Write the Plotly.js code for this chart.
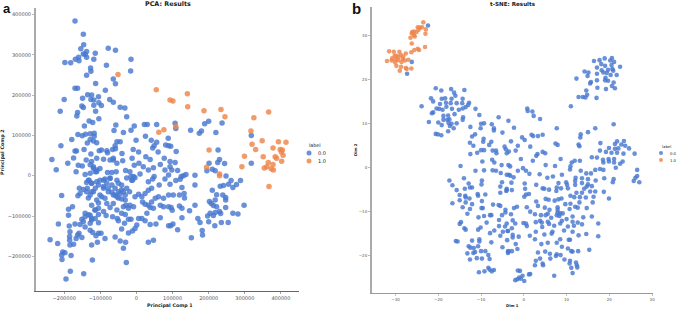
<!DOCTYPE html>
<html><head><meta charset="utf-8">
<script src="https://cdn.plot.ly/plotly-3.0.1.min.js"></script>
<style>html,body{margin:0;padding:0;background:#fff}#c{width:677px;height:309px}</style>
</head><body><div id="c"></div>
<script>
// PCA values, in thousands [comp1, comp2]
const pcaLabel0 = [[-170,384],[-147,351],[-146,325],[-154,315],[-138,308],[-147,302],[-142,301],[-114,304],[-78,316],[-58,311],[-15,289],[-198,281],[-182,280],[-169,289],[-160,294],[-159,285],[-138,294],[-118,289],[-127,267],[-126,259],[-16,260],[-83,274],[-138,249],[-64,240],[-113,229],[-58,228],[-170,217],[-163,217],[-86,212],[-135,201],[-124,200],[-149,192],[-105,196],[-200,189],[-126,189],[-118,188],[-74,189],[-64,182],[-104,181],[-97,174],[-211,160],[-118,175],[-151,173],[-147,169],[-163,157],[-113,160],[-45,170],[-32,168],[-165,148],[-27,146],[-104,141],[-131,136],[-121,132],[-57,126],[-144,123],[-6,123],[22,127],[30,127],[56,127],[-62,112],[-15,113],[-162,102],[-150,99],[-141,103],[-128,104],[-117,105],[-117,98],[-36,107],[-179,90],[-128,90],[-119,86],[-110,82],[-136,81],[-1,88],[25,98],[41,88],[88,93],[-54,84],[-45,84],[-59,74],[56,83],[49,74],[45,69],[81,76],[89,74],[-209,74],[-170,61],[-166,61],[-145,65],[-103,62],[-97,64],[-82,62],[-80,57],[-58,67],[-66,65],[-9,65],[6,59],[60,59],[-40,55],[-126,54],
[107,130],[109,117],[150,113],[174,105],[180,111],[189,129],[200,135],[237,131],[220,107],[318,100],[226,64],[110,60],[95,73],
[-234,40],[-222,15],[-174,44],[-139,39],[-190,31],[-167,10],[-161,26],[-150,24],[-124,35],[-110,43],[-91,41],[-64,43],[-38,37],[-12,43],[26,47],[38,40],[77,43],[93,35],[7,31],[-6,26],[19,22],[33,14],[47,20],[66,28],[93,22],[79,14],[-119,22],[-110,14],[-101,18],[-114,10],[-142,3],[-128,6],[-80,8],[-68,8],[-56,10],[-30,13],[-18,10],[10,4],[89,2],[-15,-2],[-4,-5],[-11,-11],[49,-2],[45,-8],[33,-15],[63,-23],[79,-8],[93,-21],[-131,-11],[-138,-17],[-124,-19],[-110,-15],[-101,-11],[-87,-8],[-73,-7],[-54,-11],[-50,-19],[-41,-23],[-27,-31],[-19,-40],[-158,-31],[-147,-34],[-156,-44],[-162,-50],[-207,-49],[-136,-31],[-124,-40],[-114,-31],[-105,-23],[-91,-27],[-78,-31],[-68,-41],[-59,-48],[-50,-55],[-41,-58],[-31,-60],[-4,-52],[6,-46],[15,-52],[24,-44],[33,-36],[42,-31],[89,-48],[75,-56],[61,-52],[-133,-55],[-124,-73],[-110,-60],[-96,-52],[-87,-56],[-82,-69],[-64,-69],[-54,-52],[-45,-44],[-36,-40],[-8,-77],[-29,-73],[-22,-81],[17,-65],[24,-71],[33,-73],[42,-65],[52,-56],[66,-73],[75,-77],[89,-77],[-188,-83],[-177,-77],[-188,-98],[-105,-81],[-91,-89],[-73,-79],[-54,-85],[-41,-93],[-31,-96],[29,-93],[47,-81],[38,-79],[-142,-93],[-128,-98],[-114,-85],[-105,-96],[-114,-106],[-124,-110],[-151,-108],[-128,-118],[-142,-127],[-156,-121],[-170,-120],[-216,-120],[-186,-125],[-105,-117],[-84,-99],[-66,-102],[-53,-106],[-50,-112],[-22,-108],[-15,-108],[-33,-118],[6,-106],[15,-106],[24,-112],[38,-121],[54,-120],[66,-104],[89,-124],[1,-122],[-4,-131],[-11,-137],[-22,-142],[-41,-132],[-128,-135],[-121,-141],[-105,-143],[-98,-143],[-112,-149],[-87,-156],[-184,-139],[-185,-151],[-185,-160],[-159,-143],[-163,-147],[-151,-153],[-167,-156],[-59,-152],[-45,-162],[-30,-165],[33,-165],[47,-160],[-239,-159],[-218,-168],[-184,-172],[-174,-170],[-124,-172],[-108,-165],[-36,-180],[-204,-189],[-198,-191],[-207,-197],[-181,-198],[-206,-208],[-122,-209],[-28,-215],[-183,-237],[-146,-243],[-195,-256],
[107,33],[201,31],[230,40],[225,33],[244,30],[98,14],[114,13],[195,12],[210,16],[218,12],[318,31],[162,1],[137,3],[130,0],[124,-2],[121,-9],[109,-12],[162,-23],[126,-29],[248,-1],[262,-12],[288,-12],[277,-22],[267,-29],[255,-21],[232,-26],[241,-24],[210,-36],[132,-44],[133,-55],[102,-48],[119,-48],[222,-47],[239,-48],[247,-54],[247,-60],[202,-64],[218,-60],[207,-69],[213,-74],[222,-77],[298,-73],[119,-75],[126,-81],[162,-73],[96,-79],[99,-86],[147,-87],[247,-79],[230,-89],[218,-91],[204,-93],[197,-100],[213,-99],[233,-94],[267,-93],[281,-95],[126,-104],[170,-106],[176,-116],[200,-114],[217,-124],[235,-116],[254,-116],[101,-120],[95,-124],[114,-134],[182,-136],[183,-147],[152,-154],
[-128,27],[-119,18],[-110,10],[-133,-11],[-124,-19],[-119,-40],[-91,-11],[-82,-19],[-73,-6],[-68,-23],[-59,-31],[-50,-40],[-64,-48],[-78,-40],[-91,-31],[-101,-48],[-128,-48],[-138,-40],[-41,-35],[-31,-48],[-73,39],[-64,39],[-54,31],[-27,-6],[-13,-11],[-8,-2],[-18,-73],[-36,-77],[-115,-85],[-105,-68],[-142,-102],[-133,-97],[-124,-106],[-147,-114]];
const pcaLabel1 = [[-51,251],[55,213],[93,188],[62,108],[76,114],[141,203],[101,185],[142,171],[187,161],[234,164],[245,146],[325,144],[366,158],[317,111],[348,87],[320,78],[330,65],[393,84],[414,83],[378,69],[398,65],[404,64],[401,59],[201,64],[109,122],[299,48],[351,47],[384,47],[388,43],[406,51],[402,36],[365,33],[378,28],[361,22],[354,19],[373,17],[379,14],[367,-27],[194,21],[230,4],[230,0],[292,22]];

// t-SNE values [dim1, dim2]
const tsneLabel0 = [[-22.4,32.3],[-26.2,24.0],[-27.3,21.3],[-20.6,18.0],[-19.3,17.5],[-17.0,17.8],[-13.9,17.6],[-16.3,17.0],[-16.0,16.3],[-21.7,15.7],[-21.2,15.0],[-19.2,15.6],[-18.4,15.7],[-16.9,15.6],[-14.3,15.6],[-12.8,14.7],[-13.0,14.2],[-19.6,14.4],[-18.2,14.7],[-17.1,14.6],[-15.7,14.6],[-14.4,14.6],[-13.6,13.7],[-14.3,13.4],[-15.2,13.1],[-20.4,13.4],[-19.8,13.3],[-19.0,13.1],[-18.1,13.8],[-16.8,13.3],[-23.9,13.9],[-21.2,12.5],[-21.5,12.3],[-11.3,13.3],[-10.4,11.9],[-18.8,11.7],[-17.7,11.8],[-16.2,12.1],[-17.4,10.9],[-17.9,10.8],[-18.8,10.8],[-14.2,11.4],[-14.3,10.8],[-22.2,10.3],[-20.0,10.2],[-19.2,9.6],[-17.6,10.1],[-15.7,10.0],[-16.9,9.9],[-17.3,9.4],[-16.4,8.9],[-12.5,9.2],[-17.7,8.2],[-20.6,7.6],[-20.1,7.5],[-19.3,7.3],[-5.9,11.4],[-3.6,10.6],[-10.0,9.9],[-9.3,10.0],[-7.5,9.8],[-7.0,8.9],[-7.0,8.4],[-10.1,8.9],[-5.0,7.9],[-11.4,7.5],[-12.1,7.0],[-9.4,6.5],[-9.5,5.8],[-12.6,5.6],[-11.8,4.9],[-7.6,5.8],[-8.1,5.1],[-10.0,3.9],[-9.3,3.9],[-7.3,3.8],[-6.5,3.8],[-4.5,4.7],[-4.2,4.1],[-3.5,3.6],[-12.5,3.0],[-10.9,3.3],[-6.4,3.2],
[16.4,24.2],[17.7,24.4],[18.9,24.8],[20.6,24.9],[20.2,24.3],[21.1,24.0],[18.1,23.5],[19.0,23.1],[20.5,23.3],[17.1,22.7],[22.5,22.9],[20.7,22.4],[18.2,22.1],[19.7,22.2],[20.9,22.0],[18.6,21.6],[19.4,21.5],[14.2,21.8],[15.1,21.6],[17.1,21.3],[14.9,20.8],[20.3,21.0],[21.7,21.0],[19.1,20.4],[12.3,20.2],[17.1,19.8],[19.0,19.8],[19.7,19.7],[15.7,19.4],[15.5,19.1],[21.0,19.3],[20.6,18.5],[21.3,18.0],[17.2,18.1],[19.2,17.8],[14.6,17.5],[12.8,16.0],[13.8,16.0],[14.4,15.9],[14.8,16.5],[17.0,15.8],[11.0,13.9],[0.8,13.4],[0.9,12.8],[2.0,12.7],[2.3,11.7],[3.8,11.0],[-2.3,9.0],[7.7,8.9],[16.7,8.9],[21.0,9.8],[15.0,8.0],[13.3,7.5],[13.2,6.8],[-0.4,6.8],[0.2,6.2],[1.8,7.4],[2.2,7.1],[3.3,7.1],[4.4,7.4],[-3.0,5.9],[-1.4,4.9],[1.5,4.7],[-1.9,3.8],[7.4,5.4],[7.9,5.1],[12.8,5.2],[13.0,4.8],[17.9,5.5],[21.8,5.9],[21.3,5.3],[23.4,6.0],[22.8,5.2],[23.7,4.9],[24.6,4.3],[19.9,4.4],[21.3,4.2],[22.1,4.3],[17.8,3.8],[19.2,3.5],[20.5,3.3],[21.8,3.3],[23.3,3.1],[25.9,3.1],[3.2,3.0],[4.4,3.5],[5.0,3.2],[-4.0,3.2],
[-9.7,1.3],[-7.4,1.7],[-6.9,1.1],[-5.2,0.5],[-14.8,0.3],[-11.3,-0.8],[-9.3,-0.7],[-7.3,-0.7],[-6.5,-0.8],[-5.4,-1.3],[-3.5,-1.7],[-17.4,-3.0],[-14.0,-2.5],[-9.8,-3.0],[-5.1,-3.4],[-16.7,-4.1],[-12.9,-3.7],[-9.9,-3.9],[-5.5,-4.4],[-4.0,-4.9],[-12.6,-4.6],[-12.1,-4.6],[-13.8,-4.9],[-15.7,-5.2],[-4.1,-5.4],[-5.5,-5.8],[-15.0,-6.3],[-10.8,-6.1],[-10.7,-6.5],[-9.0,-6.2],[-13.7,-6.5],[-13.6,-6.9],[-12.7,-7.1],[-15.0,-7.5],[-13.6,-8.0],[-9.8,-7.7],[-16.7,-8.2],[-12.1,-8.4],[-7.2,-8.5],[-5.9,-8.6],[-5.5,-8.8],[-14.3,-9.1],[-12.6,-9.5],[-9.9,-9.3],[-9.6,-9.3],[-4.3,-9.7],[-4.3,-10.3],[-13.2,-10.6],[-5.1,-10.9],[-7.9,-10.9],[-7.6,-10.9],[-9.3,-11.1],[-10.6,-11.4],[-5.8,-12.0],[-8.7,-12.6],[-14.7,-12.5],[-15.0,-12.9],[-4.0,-12.8],[-5.8,-13.4],[-4.4,-13.5],[-10.1,-13.7],[-10.7,-14.2],[-13.9,-13.9],[-13.6,-14.2],[-6.9,-14.4],[-7.9,-15.0],[-4.9,-14.7],[-3.8,-14.5],[-5.5,-15.6],[-10.4,-16.4],[-10.4,-16.9],[-12.1,-16.7],[-15.9,-16.8],[-15.5,-16.9],[-7.6,-17.1],[-3.9,-16.6],[-12.9,-18.0],[-10.7,-18.0],[-12.5,-18.3],[-11.7,-18.4],[-5.0,-18.2],[-10.0,-19.1],[-9.0,-19.1],[-11.4,-19.3],[-11.8,-19.5],[-13.2,-19.6],[-8.3,-20.0],[-3.7,-19.2],[-3.7,-19.5],[-11.0,-20.7],[-9.8,-20.8],[-12.6,-21.0],[-8.0,-20.9],[-8.3,-22.9],[-8.0,-23.3],[-7.0,-23.4],[-7.5,-23.7],[-9.2,-23.7],[-10.5,-23.9],
[-0.7,1.9],[2.1,1.5],[5.1,0.5],[7.3,0.3],[8.6,1.9],[2.9,2.6],[11.2,1.1],[11.9,1.5],[13.1,1.5],[10.9,0.2],[10.8,-0.5],[15.9,2.3],[17.1,2.2],[18.5,1.7],[18.6,1.1],[19.8,1.9],[21.1,1.9],[19.9,1.3],[21.1,1.1],[23.1,1.3],[22.5,0.8],[21.5,-0.1],[-3.2,0.2],[-3.6,0.5],[-1.4,-0.8],[-0.2,-0.2],[0.5,-0.8],[1.3,-1.5],[3.7,-1.6],[-3.2,-1.9],[-2.4,-2.3],[-4.0,-1.7],[5.5,-2.4],[6.8,-2.1],[8.9,-1.7],[13.3,-0.8],[14.6,-1.4],[15.7,-1.4],[16.7,-0.6],[17.8,-0.4],[18.6,-0.6],[12.1,-2.4],[13.6,-2.5],[15.0,-2.7],[16.8,-3.0],[18.8,-2.5],[21.0,-2.7],[20.8,-3.4],[26.5,-0.6],[26.5,-2.0],[26.1,-2.4],[25.7,-3.1],[27.0,-3.4],[-2.9,-3.5],[0.2,-3.7],[2.9,-4.0],[4.4,-4.8],[4.8,-4.9],[5.9,-5.1],[0.3,-4.9],[7.7,-4.6],[8.1,-3.6],[9.9,-3.4],[10.1,-4.0],[12.0,-3.1],[12.0,-4.0],[13.6,-3.6],[15.0,-3.9],[15.9,-4.3],[14.7,-4.4],[14.1,-4.9],[10.3,-4.8],[12.3,-5.8],[13.6,-5.8],[15.5,-5.5],[16.7,-5.5],[18.7,-5.6],[-4.0,-5.2],[-2.8,-5.2],[7.6,-5.4],[8.7,-4.8],[1.2,-6.1],[0.5,-6.2],[0.1,-6.7],[10.9,-6.5],[11.8,-6.8],[13.1,-6.8],[14.5,-6.9],[16.3,-6.7],[16.1,-8.0],[19.9,-7.1],[5.1,-7.2],[5.8,-7.4],[7.2,-7.6],[8.1,-7.3],[8.8,-7.1],[2.9,-7.8],[3.3,-8.8],[9.7,-8.4],[10.9,-8.3],[13.0,-8.0],[12.0,-9.0],[12.6,-9.2],[14.7,-9.3],[10.7,-9.5],[4.9,-9.2],[6.0,-9.7],[7.9,-9.1],[7.9,-9.7],[-1.6,-9.0],[-2.3,-9.3],[0.7,-9.1],[1.5,-10.1],[2.6,-10.7],[-3.0,-10.7],[4.0,-10.9],[5.1,-10.9],[5.6,-10.6],[7.9,-10.3],[8.5,-10.5],[9.1,-10.5],[7.7,-10.9],[8.3,-11.1],[6.4,-11.5],[11.4,-11.2],[13.9,-11.4],[15.9,-11.2],[10.0,-11.8],[8.9,-12.2],[11.4,-12.4],[12.6,-12.6],[13.6,-13.0],[17.4,-12.8],[-2.6,-12.1],[2.8,-12.5],[3.8,-12.2],[4.2,-12.6],[5.6,-12.4],[5.9,-12.9],[7.1,-13.3],[8.5,-12.8],[4.3,-13.6],[-0.1,-12.7],[0.5,-12.8],[0.7,-13.4],[-2.0,-12.8],[-2.8,-13.9],[-3.7,-14.5],[10.3,-13.5],[11.7,-13.3],[9.4,-14.4],[11.4,-14.7],[2.8,-14.7],[6.7,-14.7],[6.5,-15.1],[4.8,-15.3],[12.8,-15.5],[14.6,-15.2],[17.4,-15.7],[-2.6,-15.4],[-2.6,-16.0],[-1.2,-15.8],[1.4,-15.6],[2.6,-16.4],[8.5,-16.4],[10.5,-16.5],[10.8,-16.5],[4.1,-17.5],[5.6,-17.2],[7.7,-17.2],[8.9,-18.1],[10.3,-18.5],[-1.9,-17.5],[-1.5,-18.6],[11.1,-19.1],[11.4,-19.2],[12.7,-19.1],[15.3,-18.8],[-3.6,-19.1],[-2.8,-19.1],[5.0,-19.2],[6.1,-19.7],[3.3,-19.4],[7.7,-19.8],[8.6,-20.0],[7.5,-20.2],[3.8,-20.8],[6.2,-20.8],[9.5,-21.0],[10.8,-21.3],[2.8,-21.3],[10.7,-21.9],[4.4,-21.9],[4.5,-22.3],[2.6,-22.3],[12.2,-21.7],[12.4,-22.3],[12.5,-22.8],[11.1,-22.9],[11.4,-24.1],[-1.4,-23.5],[-0.9,-23.6],[1.5,-24.3],[1.2,-24.4],[7.1,-24.7],[-0.3,-24.7],[-1.1,-25.1],[-2.0,-25.7],[-1.5,-25.5],[0.1,-25.9],[-0.7,-25.4]];
const tsneLabel1 = [[-23.5,33.0],[-22.9,31.4],[-23.8,31.9],[-24.3,31.8],[-24.8,31.9],[-24.6,31.3],[-25.1,30.8],[-25.7,30.9],[-26.1,30.8],[-23.0,30.4],[-26.5,29.5],[-25.7,30.1],[-26.2,28.2],[-24.8,27.0],[-25.6,26.7],[-26.3,26.2],[-24.5,26.7],[-23.1,27.4],[-31.5,26.4],[-30.4,26.3],[-29.1,26.3],[-27.6,25.9],[-30.2,25.4],[-29.8,25.4],[-28.8,25.6],[-28.2,25.2],[-29.3,25.1],[-30.8,24.8],[-32.0,24.2],[-30.9,24.3],[-29.9,24.6],[-29.4,24.4],[-28.3,24.7],[-27.8,24.3],[-27.0,24.5],[-30.1,23.9],[-28.6,24.0],[-29.8,23.1],[-28.7,22.9],[-27.6,22.6],[-29.0,22.0],[-27.4,22.4],[-26.3,22.5],[-25.5,29.8],[-26.2,30.5]];

const pcaTicksX = [-200000,-100000,0,100000,200000,300000,400000];
const pcaTicksY = [-200000,-100000,0,100000,200000,300000,400000];
const tsneTicksX = [-30,-20,-10,0,10,20,30];
const tsneTicksY = [-20,-10,0,10,20,30];
const labels = ['0.0','1.0'];
const BLUE = '#4878cf', ORANGE = '#ee854a', W = 677, H = 309;

const pts = (list, k, f) => list.map(p => p[k] * f);
function dots(list, f, color, size, xa, ya, name) {
  return {type:'scatter', mode:'markers', name, x:pts(list,0,f), y:pts(list,1,f), xaxis:xa, yaxis:ya,
    marker:{color, size, opacity:0.82, line:{width:0}}, showlegend:false, hoverinfo:'skip'};
}
const data = [
  dots(pcaLabel0,1000,BLUE,5.5,'x','y','0.0'),
  dots(pcaLabel1,1000,ORANGE,5.5,'x','y','1.0'),
  dots(tsneLabel0,1,BLUE,4.6,'x2','y2','0.0'),
  dots(tsneLabel1,1,ORANGE,4.6,'x2','y2','1.0')
];
const font = 'DejaVu Sans, sans-serif';
function xAxis(dom, range, ticks, fs, col) {
  return {domain:[dom[0]/W, dom[1]/W], range, tickmode:'array', tickvals:ticks, ticktext:ticks.map(String).map(s=>s.replace('-','\u2212')),
    showgrid:false, zeroline:false, showline:true, linecolor:col, linewidth:1, ticks:'outside', ticklen:2, tickwidth:0.6, tickcolor:col,
    tickfont:{family:font,size:fs,color:'#555'}, automargin:false};
}
function yAxis(dom, range, ticks, fs) {
  return {domain:[1-dom[1]/H, 1-dom[0]/H], range, tickmode:'array', tickvals:ticks, ticktext:ticks.map(String).map(s=>s.replace('-','\u2212')),
    showgrid:false, zeroline:false, showline:true, linecolor:'#aaa', linewidth:2, ticks:'outside', ticklen:2, tickwidth:0.6, tickcolor:'#888',
    tickfont:{family:font,size:fs,color:'#555'}, automargin:false};
}
function txt(text, px, py, size, opts) {
  return Object.assign({text, xref:'paper', yref:'paper', x:px/W, y:1-py/H, showarrow:false, xanchor:'center', yanchor:'middle',
    font:{family:font, size, color:'#222'}}, opts||{});
}
function dot(px, py, r, color) {
  return {type:'circle', xref:'paper', yref:'paper', x0:(px-r)/W, x1:(px+r)/W, y0:1-(py+r)/H, y1:1-(py-r)/H,
    fillcolor:color, opacity:0.82, line:{width:0}};
}
const bold = s => '<b>'+s+'</b>';
const layout = {
  width:W, height:H, margin:{l:0,r:0,t:0,b:0}, paper_bgcolor:'#fff', plot_bgcolor:'#fff', hovermode:false,
  xaxis:Object.assign(xAxis([36,299],[-278000,450000],pcaTicksX,5,'#666'),{anchor:'y'}),
  yaxis:Object.assign(yAxis([8,291],[-286000,416000],pcaTicksY,5),{anchor:'x'}),
  xaxis2:Object.assign(xAxis([372,653],[-35.5,30.2],tsneTicksX,4,'#999'),{anchor:'y2'}),
  yaxis2:Object.assign(yAxis([7,293.3],[-28.7,36.5],tsneTicksY,4),{anchor:'x2'}),
  annotations:[
    txt(bold('a'),7,8,13,{font:{family:'Liberation Sans, sans-serif',size:13,color:'#111'}}),
    txt(bold('b'),356,8.5,15,{font:{family:'Liberation Sans, sans-serif',size:15,color:'#111'}}),
    txt(bold('PCA: Results'),168,4,6.4),
    txt(bold('t-SNE: Results'),513,4,5.6),
    txt(bold('Principal Comp 1'),170,305,4.8),
    txt(bold('Principal Comp 2'),3,152,4.8,{textangle:-90}),
    txt(bold('Dim 1'),512,305,3.8),
    txt(bold('Dim 2'),355,150,3.8,{textangle:-90}),
    txt('label',314.5,145,4.8),
    txt(labels[0],322,153,5),
    txt(labels[1],322,161,5),
    txt('label',666,146.5,3.8),
    txt(labels[0],673,153,3.8),
    txt(labels[1],673,160,3.8)
  ],
  shapes:[
    dot(309,153,2.5,BLUE), dot(309,161,2.5,ORANGE),
    dot(661,153,2,BLUE), dot(661,160,2,ORANGE)
  ]
};
Plotly.newPlot('c', data, layout, {staticPlot:true, displayModeBar:false});
</script></body></html>
